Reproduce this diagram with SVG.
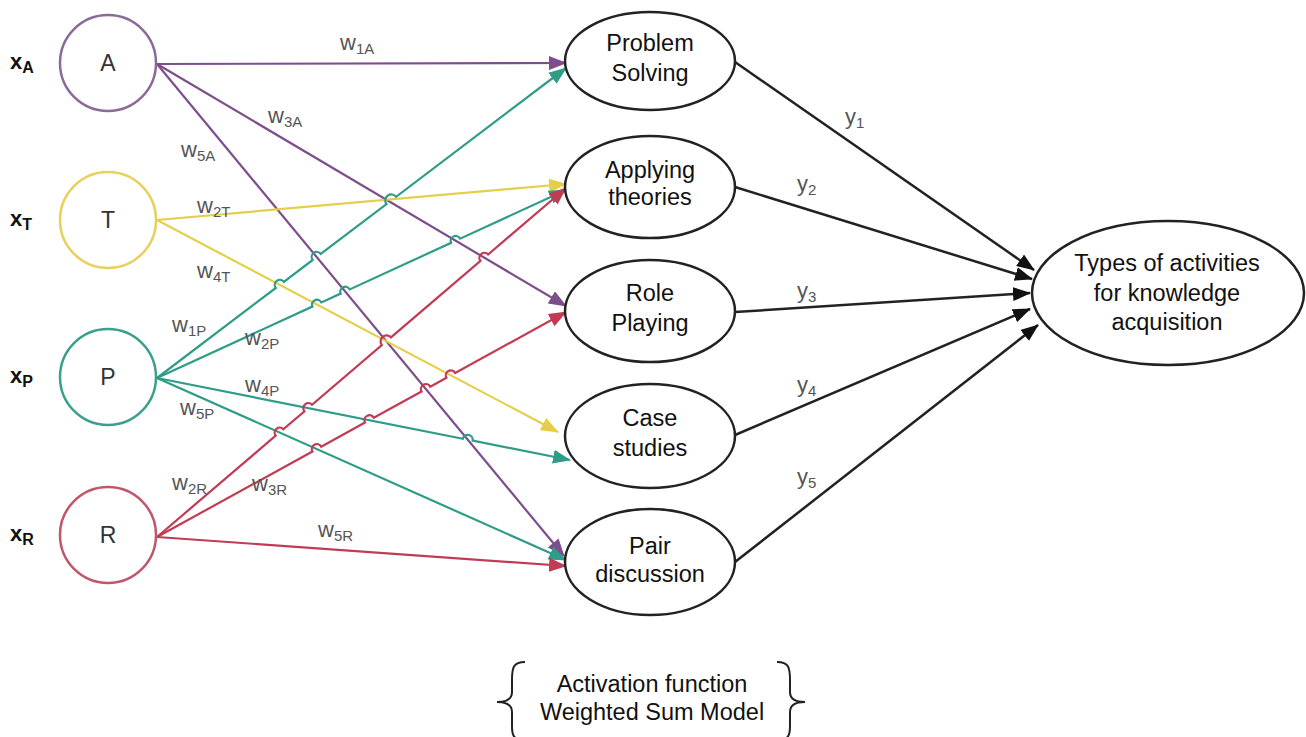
<svg xmlns="http://www.w3.org/2000/svg" width="1306" height="737" viewBox="0 0 1306 737">
<defs>
<style>
.in{fill:#fff;stroke-width:2.5}
.out{fill:#fff;stroke:#222;stroke-width:2.5}
.lbl{font-family:"Liberation Sans",Arial,sans-serif;font-size:23.5px;fill:#111;text-anchor:middle}
.big{font-family:"Liberation Sans",Arial,sans-serif;font-size:23px;fill:#333;text-anchor:middle}
.x{font-family:"Liberation Sans",Arial,sans-serif;font-size:22px;fill:#111;font-weight:bold}
.w{font-family:"Liberation Sans",Arial,sans-serif;font-size:22px;fill:#555}
.sub{font-size:15px}
.xsub{font-size:16px}
.cp{stroke:#7d4e8c;stroke-width:2.2;fill:none}
.cy{stroke:#e5cf4a;stroke-width:2.2;fill:none}
.ct{stroke:#2e9c87;stroke-width:2.2;fill:none}
.cr{stroke:#c23b55;stroke-width:2.2;fill:none}
.ck{stroke:#222;stroke-width:2.5;fill:none}
</style>
<marker id="mp" markerWidth="18" markerHeight="14" refX="17" refY="7" orient="auto" markerUnits="userSpaceOnUse"><path d="M0,0 L18,7 L0,14 Z" fill="#7d4e8c"/></marker>
<marker id="my" markerWidth="18" markerHeight="14" refX="17" refY="7" orient="auto" markerUnits="userSpaceOnUse"><path d="M0,0 L18,7 L0,14 Z" fill="#e5cf4a"/></marker>
<marker id="mt" markerWidth="18" markerHeight="14" refX="17" refY="7" orient="auto" markerUnits="userSpaceOnUse"><path d="M0,0 L18,7 L0,14 Z" fill="#2e9c87"/></marker>
<marker id="mr" markerWidth="18" markerHeight="14" refX="17" refY="7" orient="auto" markerUnits="userSpaceOnUse"><path d="M0,0 L18,7 L0,14 Z" fill="#c23b55"/></marker>
<marker id="mk" markerWidth="18" markerHeight="14" refX="17" refY="7" orient="auto" markerUnits="userSpaceOnUse"><path d="M0,0 L18,7 L0,14 Z" fill="#111"/></marker>
</defs>
<rect width="1306" height="737" fill="#fff"/>

<g id="connectors">
<path class="cp" d="M157,64 L566,63" marker-end="url(#mp)"/>
<path class="cp" d="M157,64 L566,306" marker-end="url(#mp)"/>
<path class="cp" d="M157,64 L564,556" marker-end="url(#mp)"/>
<path class="cy" d="M157,220 L566,184" marker-end="url(#my)"/>
<path class="cy" d="M157,220 L558,432" marker-end="url(#my)"/>
<path class="ct" d="M157,378 L275.8,287.96 A5,5 0 0 1 283.8,281.9 L312.7,260 A5,5 0 0 1 320.7,253.93 L386.5,204.06 A6,6 0 0 1 396.1,196.79 L566,68" marker-end="url(#mt)"/>
<path class="ct" d="M157,378 L312.36,306.58 A5,5 0 0 1 321.44,302.41 L340.66,293.57 A5,5 0 0 1 349.74,289.4 L451.06,242.82 A5,5 0 0 1 460.14,238.65 L566,190" marker-end="url(#mt)"/>
<path class="ct" d="M157,378 L462.9,438.72 A5,5 0 0 1 472.7,440.67 L570,460" marker-end="url(#mt)"/>
<path class="ct" d="M157,378 L566,560" marker-end="url(#mt)"/>
<path class="cr" d="M157,537 L275.7,435.71 A5,5 0 0 1 283.3,429.23 L304.4,411.22 A5,5 0 0 1 312,404.74 L381.84,345.14 A6,6 0 0 1 390.96,337.36 L480.5,260.96 A5,5 0 0 1 488.1,254.47 L566,188" marker-end="url(#mr)"/>
<path class="cr" d="M157,537 L312.42,451.5 A5,5 0 0 1 321.18,446.68 L365.02,422.57 A5,5 0 0 1 373.78,417.75 L421.52,391.49 A5,5 0 0 1 430.28,386.67 L446.42,377.79 A5,5 0 0 1 455.18,372.97 L566,312" marker-end="url(#mr)"/>
<path class="cr" d="M157,537 L566,566" marker-end="url(#mr)"/>
<path class="ck" d="M735,62 L1034,270" marker-end="url(#mk)"/>
<path class="ck" d="M735,187 L1032,279" marker-end="url(#mk)"/>
<path class="ck" d="M735,312 L1030,293" marker-end="url(#mk)"/>
<path class="ck" d="M735,435 L1030,309" marker-end="url(#mk)"/>
<path class="ck" d="M735,562 L1038,325" marker-end="url(#mk)"/>
<text class="w" x="340" y="50">w<tspan class="sub" dy="4">1A</tspan></text>
<text class="w" x="268" y="123">w<tspan class="sub" dy="4">3A</tspan></text>
<text class="w" x="181" y="157">w<tspan class="sub" dy="4">5A</tspan></text>
<text class="w" x="197" y="213">w<tspan class="sub" dy="4">2T</tspan></text>
<text class="w" x="197" y="278">w<tspan class="sub" dy="4">4T</tspan></text>
<text class="w" x="172" y="332">w<tspan class="sub" dy="4">1P</tspan></text>
<text class="w" x="245" y="345">w<tspan class="sub" dy="4">2P</tspan></text>
<text class="w" x="245" y="392">w<tspan class="sub" dy="4">4P</tspan></text>
<text class="w" x="180" y="415">w<tspan class="sub" dy="4">5P</tspan></text>
<text class="w" x="172" y="490">w<tspan class="sub" dy="4">2R</tspan></text>
<text class="w" x="252" y="491">w<tspan class="sub" dy="4">3R</tspan></text>
<text class="w" x="318" y="537">w<tspan class="sub" dy="4">5R</tspan></text>
<text class="w" x="845" y="124">y<tspan class="sub" dy="4">1</tspan></text>
<text class="w" x="797" y="191">y<tspan class="sub" dy="4">2</tspan></text>
<text class="w" x="797" y="298">y<tspan class="sub" dy="4">3</tspan></text>
<text class="w" x="797" y="392">y<tspan class="sub" dy="4">4</tspan></text>
<text class="w" x="797" y="484">y<tspan class="sub" dy="4">5</tspan></text>
</g>

<g id="node-A"><circle class="in" cx="108" cy="63" r="48" stroke="#8a6a98"/><text class="big" x="108" y="71">A</text><text class="x" x="10" y="69">x<tspan class="xsub" dy="4">A</tspan></text></g>
<g id="node-T"><circle class="in" cx="108" cy="220" r="48" stroke="#e8d05c"/><text class="big" x="108" y="228">T</text><text class="x" x="10" y="226">x<tspan class="xsub" dy="4">T</tspan></text></g>
<g id="node-P"><circle class="in" cx="108" cy="377" r="48" stroke="#3a9f8c"/><text class="big" x="108" y="385">P</text><text class="x" x="10" y="383">x<tspan class="xsub" dy="4">P</tspan></text></g>
<g id="node-R"><circle class="in" cx="108" cy="535" r="48" stroke="#c0566a"/><text class="big" x="108" y="543">R</text><text class="x" x="10" y="541">x<tspan class="xsub" dy="4">R</tspan></text></g>

<g id="node-problem-solving"><ellipse class="out" cx="650" cy="61" rx="85" ry="49"/><text class="lbl" x="650" y="51">Problem</text><text class="lbl" x="650" y="81">Solving</text></g>
<g id="node-applying-theories"><ellipse class="out" cx="650" cy="187" rx="85" ry="51"/><text class="lbl" x="650" y="178">Applying</text><text class="lbl" x="650" y="205">theories</text></g>
<g id="node-role-playing"><ellipse class="out" cx="650" cy="311" rx="85" ry="51"/><text class="lbl" x="650" y="301">Role</text><text class="lbl" x="650" y="331">Playing</text></g>
<g id="node-case-studies"><ellipse class="out" cx="650" cy="436" rx="85" ry="52"/><text class="lbl" x="650" y="426">Case</text><text class="lbl" x="650" y="456">studies</text></g>
<g id="node-pair-discussion"><ellipse class="out" cx="650" cy="562" rx="85" ry="53"/><text class="lbl" x="650" y="554">Pair</text><text class="lbl" x="650" y="582">discussion</text></g>
<g id="node-types"><ellipse class="out" cx="1168" cy="293" rx="136" ry="72"/><text class="lbl" x="1167" y="271">Types of activities</text><text class="lbl" x="1167" y="301">for knowledge</text><text class="lbl" x="1167" y="330">acquisition</text></g>

<g id="note">
<path d="M525,662 C513,662 512,668 512,680 L512,692 C512,699 507,702 497,702 C507,702 512,705 512,712 L512,726 C512,735 513,740 525,740" fill="none" stroke="#222" stroke-width="2"/>
<path d="M777,662 C789,662 790,668 790,680 L790,692 C790,699 795,702 805,702 C795,702 790,705 790,712 L790,726 C790,735 789,740 777,740" fill="none" stroke="#222" stroke-width="2"/>
<text class="lbl" x="652" y="692">Activation function</text>
<text class="lbl" x="652" y="720">Weighted Sum Model</text>
</g>
</svg>
